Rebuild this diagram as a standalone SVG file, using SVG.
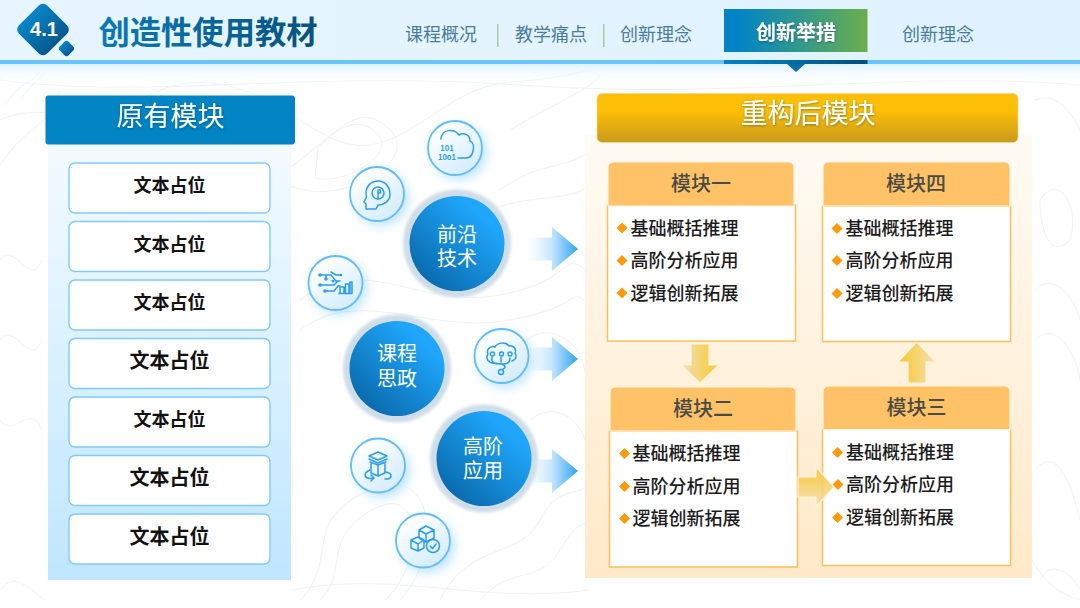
<svg xmlns="http://www.w3.org/2000/svg" width="1080" height="608" viewBox="0 0 1080 608">
<style>
text{font-family:"Noto Sans CJK SC","Noto Sans",sans-serif;text-anchor:middle}
.nav{font-size:18px;fill:#4a7c9c}
.box{fill:#fff;stroke:#7fcbff;stroke-width:1.4}
.bt{font-size:18px;font-weight:700;fill:#111}
.bt2{font-size:20px;font-weight:700;fill:#111}
.mh{fill:#ffc266;stroke:#fff4e0;stroke-width:1.2}
.mb{fill:#fff;stroke:#ffbe5c;stroke-width:1.5}
.mt{font-size:20px;font-weight:500;fill:#4b4b45}
.li{font-size:18px;font-weight:500;fill:#1c1c1c;text-anchor:start}
.dia{fill:#ff9a0a}
.halo{fill:#cfdde8;filter:url(#b1)}
.ball{fill:url(#ball)}
.bl{font-size:20px;fill:#fff}
.ic{fill:url(#icf);stroke:#62bbff;stroke-width:1.8}
.gl{fill:#6cc4ff;opacity:.5;filter:url(#b6)}
.st{fill:none;stroke:#2b9df0;stroke-width:1.5;stroke-linecap:round;stroke-linejoin:round}
.sf{fill:#2b9df0}
.ct{fill:none;stroke:#f0f1f3;stroke-width:1}
</style>
<defs>
<linearGradient id="hdr" x1="0" y1="0" x2="1" y2="0"><stop offset="0" stop-color="#e6f5ff"/><stop offset="1" stop-color="#dff2ff"/></linearGradient>
<linearGradient id="shd" x1="0" y1="0" x2="0" y2="1"><stop offset="0" stop-color="#dff2ff"/><stop offset="1" stop-color="#fff" stop-opacity="0"/></linearGradient>
<linearGradient id="dia" x1="0" y1="0.5" x2="1" y2="0.5"><stop offset="0" stop-color="#0a86c8"/><stop offset="1" stop-color="#04588f"/></linearGradient>
<linearGradient id="tab" x1="0" y1="0" x2="1" y2="0"><stop offset="0.1" stop-color="#0084c6"/><stop offset="1" stop-color="#6bae4b"/></linearGradient>
<linearGradient id="tabb" x1="0" y1="0" x2="1" y2="0"><stop offset="0" stop-color="#0084c6"/><stop offset="1" stop-color="#004f80"/></linearGradient>
<linearGradient id="ttl" x1="0" y1="0" x2="1" y2="0"><stop offset="0" stop-color="#0a7ab5"/><stop offset="1" stop-color="#07527f"/></linearGradient>
<linearGradient id="lp" x1="0" y1="0" x2="0" y2="1"><stop offset="0" stop-color="#f4fbff"/><stop offset="1" stop-color="#bfe6ff"/></linearGradient>
<linearGradient id="rp" x1="0" y1="0" x2="0" y2="1"><stop offset="0" stop-color="#fffbf4"/><stop offset="1" stop-color="#ffe9c8"/></linearGradient>
<linearGradient id="gold" x1="0" y1="0" x2="0" y2="1"><stop offset="0.35" stop-color="#fcbe06"/><stop offset="1" stop-color="#c99a1c"/></linearGradient>
<linearGradient id="ball" x1="0.2" y1="0.9" x2="0.8" y2="0.25"><stop offset="0" stop-color="#0a6cae"/><stop offset="1" stop-color="#1fa6fb"/></linearGradient>
<linearGradient id="icf" x1="0.2" y1="0.1" x2="0.8" y2="0.95"><stop offset="0" stop-color="#fff"/><stop offset="1" stop-color="#d2ecff"/></linearGradient>
<linearGradient id="arb" x1="0" y1="0" x2="1" y2="0"><stop offset="0" stop-color="#dff2ff" stop-opacity="0.1"/><stop offset="0.5" stop-color="#bfe3fd"/><stop offset="1" stop-color="#2fa4f6"/></linearGradient>
<linearGradient id="ad" x1="1" y1="0" x2="0" y2="0"><stop offset="0.1" stop-color="#f8cb3b"/><stop offset="1" stop-color="#efe0b8"/></linearGradient>
<linearGradient id="au" x1="0" y1="0" x2="1" y2="0"><stop offset="0.1" stop-color="#f8c83a"/><stop offset="1" stop-color="#f3e2b4"/></linearGradient>
<linearGradient id="ar" x1="0" y1="0" x2="0" y2="1"><stop offset="0.1" stop-color="#f8c83a"/><stop offset="1" stop-color="#f1e0b4"/></linearGradient>
<filter id="b6" x="-50%" y="-50%" width="200%" height="200%"><feGaussianBlur stdDeviation="6"/></filter>
<filter id="b1" x="-10%" y="-10%" width="120%" height="120%"><feGaussianBlur stdDeviation="1.500"/></filter>
<filter id="ts" x="-10%" y="-20%" width="120%" height="150%"><feDropShadow dx="0.5" dy="1" stdDeviation="0.8" flood-color="#003a5c" flood-opacity=".45"/></filter>
<g id="arrowB"><path d="M0-11.500H24V-22L50 0 24 22V11.500H0Z" fill="url(#arb)"/></g>
</defs>

<rect width="1080" height="608" fill="#fff"/>
<g id="contours">
<path class="ct" d="M0 120C40 100 90 130 140 100S240 80 300 120 380 150 440 110 510 90 590 70"/>
<path class="ct" d="M0 165C30 120 50 130 60 90M5 105C25 75 35 85 40 70M20 100C30 85 40 80 45 72"/>
<path class="ct" d="M300 160C340 130 360 100 390 130S350 200 305 190 290 170 300 160Z"/>
<path class="ct" d="M318 148C340 125 360 115 378 135S345 185 315 178Z"/>
<path class="ct" d="M300 300C360 250 420 310 500 295S560 245 590 275"/>
<path class="ct" d="M300 330C360 285 430 335 510 320S565 285 590 305"/>
<path class="ct" d="M300 600C340 560 300 520 370 490S440 560 400 600"/>
<path class="ct" d="M320 600C350 570 320 540 372 510S425 565 385 600"/>
<path class="ct" d="M440 600C470 540 520 560 540 520S585 500 590 480"/>
<path class="ct" d="M480 600C510 565 540 585 560 550S585 530 590 520"/>
<path class="ct" d="M510 130C560 100 590 90 600 75M500 190C540 160 570 170 590 150M480 215C530 190 565 205 590 185"/>
<path class="ct" d="M520 345C550 315 590 345 585 385M530 420C555 400 580 420 585 440"/>
<path class="ct" d="M1035 100C1060 90 1075 120 1080 130M1040 200C1060 170 1080 210 1070 240 1050 260 1040 230 1040 200Z"/>
<path class="ct" d="M1035 290C1055 270 1075 300 1080 320M1035 340C1055 320 1075 350 1080 380M1035 470C1060 440 1075 500 1080 520M1040 580C1050 560 1070 570 1080 590"/>
<path class="ct" d="M0 590C15 570 30 590 45 600M0 420C15 440 30 400 42 430M0 260C15 240 30 290 42 260M0 340C15 320 30 370 42 340"/>
<path class="ct" d="M290 590C400 570 480 605 590 590M1032 560C1050 590 1065 595 1080 600"/>
<path class="ct" d="M0 80C150 100 300 70 520 85S900 70 1080 85"/>
</g>

<g id="header">
<rect x="0" y="64" width="1080" height="22" fill="url(#shd)"/>
<rect width="1080" height="60" fill="url(#hdr)"/>
<rect y="60" width="1080" height="4" fill="#68c4ff"/>
</g>

<g id="badge">
<rect x="23" y="9.500" width="40" height="40" rx="6" transform="rotate(45 43 29.500)" fill="url(#dia)"/>
<rect x="60.300" y="42.300" width="12.400" height="12.400" rx="3" transform="rotate(45 66.500 48.500)" fill="url(#dia)"/>
<text x="44" y="36" font-size="20" font-weight="700" fill="#fff" style="font-family:'Liberation Sans','Noto Sans',sans-serif">4.1</text>
</g>
<text id="title" x="208" y="44" font-size="31.300" font-weight="700" fill="url(#ttl)">创造性使用教材</text>

<g id="nav">
<text class="nav" x="441" y="41">课程概况</text>
<rect x="497" y="24" width="1.500" height="23" fill="#a4d094"/>
<text class="nav" x="551" y="41">教学痛点</text>
<rect x="603" y="24" width="1.500" height="23" fill="#a4d094"/>
<text class="nav" x="656" y="41">创新理念</text>
<text class="nav" x="938" y="41">创新理念</text>
</g>
<g id="nav-active">
<rect x="724" y="9" width="143.500" height="43" fill="url(#tab)"/>
<rect x="724" y="60" width="143.500" height="4" fill="url(#tabb)"/>
<path d="M787 64H805L796 72Z" fill="#0a6ca8"/>
<text x="796" y="40" font-size="20" font-weight="700" fill="#fff" filter="url(#ts)">创新举措</text>
</g>

<g id="panel-left">
<rect x="48" y="140" width="243" height="440" fill="url(#lp)"/>
<rect x="45.500" y="95.500" width="249.500" height="49" rx="3" fill="#0084c3"/>
<text x="170.500" y="126" font-size="27" fill="#fff" filter="url(#ts)">原有模块</text>
</g>
<g id="box1"><rect class="box" x="69" y="163" width="201" height="50" rx="6"/><text class="bt" x="169.500" y="192">文本占位</text></g>
<g id="box2"><rect class="box" x="69" y="221.500" width="201" height="50" rx="6"/><text class="bt" x="169.500" y="250.500">文本占位</text></g>
<g id="box3"><rect class="box" x="69" y="280" width="201" height="50" rx="6"/><text class="bt" x="169.500" y="309">文本占位</text></g>
<g id="box4"><rect class="box" x="69" y="338.500" width="201" height="50" rx="6"/><text class="bt2" x="169.500" y="368">文本占位</text></g>
<g id="box5"><rect class="box" x="69" y="397" width="201" height="50" rx="6"/><text class="bt" x="169.500" y="426">文本占位</text></g>
<g id="box6"><rect class="box" x="69" y="455.500" width="201" height="50" rx="6"/><text class="bt2" x="169.500" y="485">文本占位</text></g>
<g id="box7"><rect class="box" x="69" y="514" width="201" height="50" rx="6"/><text class="bt2" x="169.500" y="543.500">文本占位</text></g>

<g id="panel-right">
<rect x="585" y="135" width="447" height="443" fill="url(#rp)"/>
<rect x="597" y="93.500" width="421" height="49" rx="5" fill="url(#gold)" stroke="#f3d98e" stroke-width=".8"/>
<text x="808" y="123" font-size="27" fill="#fff" filter="url(#ts)">重构后模块</text>
</g>

<g id="connectors">
<use href="#arrowB" x="528" y="249"/>
<use href="#arrowB" x="528" y="359"/>
<use href="#arrowB" x="528" y="471"/>
<path d="M691 344H709V365H719L700 383 681 365H691Z" fill="url(#ad)" stroke="#fff3dc" stroke-width="1.200"/>
<path d="M908 383V362H898L916.500 342 936 362H926V383Z" fill="url(#au)" stroke="#fff3dc" stroke-width="1.200"/>
</g>

<g id="ball1"><circle class="halo" cx="457" cy="243.500" r="54"/><circle class="ball" cx="457" cy="243.500" r="47.500"/><text class="bl"><tspan x="457" y="242">前沿</tspan><tspan x="457" y="266">技术</tspan></text></g>
<g id="ball2"><circle class="halo" cx="397" cy="368.500" r="54"/><circle class="ball" cx="397" cy="368.500" r="47.500"/><text class="bl"><tspan x="397" y="361">课程</tspan><tspan x="397" y="385.500">思政</tspan></text></g>
<g id="ball3"><circle class="halo" cx="484" cy="458.500" r="54"/><circle class="ball" cx="484" cy="458.500" r="47.500"/><text class="bl"><tspan x="483" y="453.500">高阶</tspan><tspan x="483" y="478">应用</tspan></text></g>

<g id="icon-cloud"><circle class="gl" cx="459" cy="152" r="27"/><circle class="ic" cx="455" cy="148" r="27"/>
<path class="st" d="M441 139C442 129 454 128 459 135 464 132 470 135 470 141 476 143 474 158 466 158H458"/>
<text x="447" y="151" font-size="7.500" font-weight="700" fill="#2b9df0">101</text><text x="447" y="160" font-size="7.500" font-weight="700" fill="#2b9df0">10o1</text></g>

<g id="icon-head"><circle class="gl" cx="381" cy="198" r="27"/><circle class="ic" cx="377" cy="194" r="27"/>
<path class="st" d="M366 209V204L364 202 366.500 197C364 186 372 181 378 181 386 181 390 188 390 194 390 201 384 205 378 205L376 209Z"/><circle class="st" cx="378" cy="193" r="6"/><path class="st" d="M378 190V199M378 190H380.500V193H378"/></g>

<g id="icon-net"><circle class="gl" cx="339" cy="287" r="27"/><circle class="ic" cx="335.500" cy="283" r="27"/>
<path class="st" stroke-width="1.200" d="M320 275H331L336 281H340M331 272L336 275H341M326 275V279M320 285H334L338 281M325 291H334L338 286H340"/>
<path class="st" stroke-width="1.100" d="M340 293V287H344V293M345.500 293V284H349V293M350 293V282H352V293M339 293.500H352"/>
<circle class="sf" cx="320" cy="275" r="1.800"/><circle class="sf" cx="320" cy="285" r="1.800"/><circle class="sf" cx="326" cy="279" r="1.800"/><circle class="sf" cx="325" cy="291" r="1.800"/><circle class="sf" cx="333" cy="281" r="1.500"/><circle class="sf" cx="341" cy="275" r="1.200"/></g>

<g id="icon-brain"><circle class="gl" cx="505" cy="360" r="27"/><circle class="ic" cx="501.500" cy="356" r="27"/>
<path class="st" d="M495 363C489 364 485 359 488 354 486 349 491 345 495 347 498 342 506 342 509 346 513 345 517 349 515 353 517 356 516 360 512 361M492 357V361C493 364 497 364 503 364 507 364 510 362 510 358M501 357V362M501 364C506 365 506 368 503 369"/><circle class="st" cx="501" cy="372" r="2.500"/><circle class="st" cx="492.500" cy="354" r="2"/><circle class="st" cx="501.500" cy="354" r="2"/><circle class="st" cx="510" cy="354" r="2"/></g>

<g id="icon-stack"><circle class="gl" cx="382" cy="470" r="27"/><circle class="ic" cx="378" cy="465.500" r="27"/>
<path class="st" d="M369 456L378 452 387 456 378 460ZM369 459L378 463 387 459M370 462L378 465 386 462M371 464V473L378 476 385 473V464M378 465V476"/><path class="st" d="M370 470C362 473 364 480 374 478M385 472C393 473 393 479 385 479M371 475L374 478 371 481"/></g>

<g id="icon-box"><circle class="gl" cx="427" cy="545" r="27"/><circle class="ic" cx="423" cy="540.500" r="27"/>
<path class="st" d="M419 530L426 526 434 530V538L426 542 419 538ZM419 530L426 534 434 530M426 534V542M411 540L418 537 424 540V548L418 551 411 548ZM411 540L418 544 424 540M418 544V551"/><circle class="st" cx="433" cy="546" r="6.500"/><path class="st" d="M430 546L432.500 548.500 436 544"/></g>

<g id="module1"><rect class="mb" x="607.500" y="205" width="188" height="136"/><path class="mh" d="M608 206V168Q608 162 614 162H788Q794 162 794 168V206Z"/>
<text class="mt" x="701" y="190.500">模块一</text>
<path class="dia" d="M622 222.500l5.500 5.500-5.500 5.500-5.500-5.500Z"/><text class="li" x="630.500" y="234.500">基础概括推理</text>
<path class="dia" d="M622 255l5.500 5.500-5.500 5.500-5.500-5.500Z"/><text class="li" x="630.500" y="267">高阶分析应用</text>
<path class="dia" d="M622 287.500l5.500 5.500-5.500 5.500-5.500-5.500Z"/><text class="li" x="630.500" y="299.500">逻辑创新拓展</text></g>

<g id="module4"><rect class="mb" x="822.500" y="206" width="188" height="135.500"/><path class="mh" d="M823 206V168Q823 162 829 162H1004Q1010 162 1010 168V206Z"/>
<text class="mt" x="916" y="190.500">模块四</text>
<path class="dia" d="M837 223l5.500 5.500-5.500 5.500-5.500-5.500Z"/><text class="li" x="845.500" y="234.500">基础概括推理</text>
<path class="dia" d="M837 255l5.500 5.500-5.500 5.500-5.500-5.500Z"/><text class="li" x="845.500" y="267">高阶分析应用</text>
<path class="dia" d="M837 288l5.500 5.500-5.500 5.500-5.500-5.500Z"/><text class="li" x="845.500" y="299.500">逻辑创新拓展</text></g>

<g id="module2"><rect class="mb" x="609.500" y="431" width="188" height="136"/><path class="mh" d="M610 431V393Q610 387 616 387H790Q796 387 796 393V431Z"/>
<text class="mt" x="703" y="415.500">模块二</text>
<path class="dia" d="M624.500 448l5.500 5.500-5.500 5.500-5.500-5.500Z"/><text class="li" x="632.500" y="460">基础概括推理</text>
<path class="dia" d="M624.500 481l5.500 5.500-5.500 5.500-5.500-5.500Z"/><text class="li" x="632.500" y="492.500">高阶分析应用</text>
<path class="dia" d="M624.500 513l5.500 5.500-5.500 5.500-5.500-5.500Z"/><text class="li" x="632.500" y="525">逻辑创新拓展</text></g>

<g id="module3"><rect class="mb" x="822.500" y="429" width="188" height="136.500"/><path class="mh" d="M823 429.500V392Q823 386 829 386H1004Q1010 386 1010 392V429.500Z"/>
<text class="mt" x="916.500" y="414.500">模块三</text>
<path class="dia" d="M837.500 447l5.500 5.500-5.500 5.500-5.500-5.500Z"/><text class="li" x="846" y="458.500">基础概括推理</text>
<path class="dia" d="M838 479l5.500 5.500-5.500 5.500-5.500-5.500Z"/><text class="li" x="846" y="491">高阶分析应用</text>
<path class="dia" d="M837.500 512l5.500 5.500-5.500 5.500-5.500-5.500Z"/><text class="li" x="846" y="523.500">逻辑创新拓展</text></g>

<path id="arrow-front" d="M798 477H816V467L834 487 816 507V497H798Z" fill="url(#ar)" stroke="#fff3dc" stroke-width="1.200" opacity=".88"/>
</svg>
